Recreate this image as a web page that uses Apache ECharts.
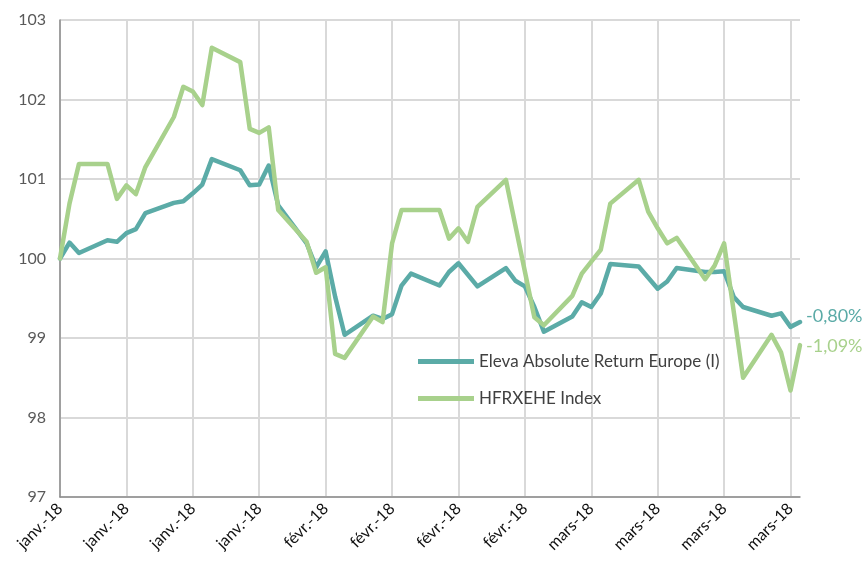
<!DOCTYPE html>
<html><head><meta charset="utf-8">
<script src="https://cdn.jsdelivr.net/npm/echarts@6/dist/echarts.min.js"></script>
<style>html,body{margin:0;padding:0;background:#fff}#c{width:868px;height:565px}</style>
</head><body><div id="c"></div>
<script>
// Business-day offsets from the first observation
const days = [0,1,2,5,6,7,8,9,12,13,14,15,16,19,20,21,22,23,26,27,28,29,30,33,34,35,36,37,40,41,42,43,44,47,48,49,50,51,54,55,56,57,58,61,62,63,64,65,68,69,70,71,72,75,76,77,78];
const eleva = [100.00,100.20,100.07,100.23,100.21,100.32,100.37,100.57,100.70,100.72,100.82,100.93,101.25,101.11,100.92,100.93,101.17,100.67,100.19,99.89,100.09,99.52,99.04,99.28,99.24,99.30,99.66,99.81,99.66,99.83,99.94,null,99.65,99.88,99.72,99.65,99.39,99.08,99.27,99.45,99.39,99.56,99.93,99.90,null,99.62,99.71,99.88,99.83,99.83,99.84,99.52,99.39,99.28,99.31,99.14,99.20];
const hfrx = [100.00,100.69,101.19,101.19,100.75,100.92,100.81,101.15,101.78,102.16,102.10,101.93,102.65,102.47,101.63,101.58,101.65,100.61,100.21,99.82,99.89,98.80,98.75,99.27,99.20,100.19,100.61,100.61,100.61,100.25,100.38,100.21,100.65,100.99,null,null,99.26,99.16,99.53,99.81,99.96,100.11,100.69,100.99,100.59,100.38,100.19,100.26,99.74,99.91,100.19,null,98.50,99.04,98.82,98.34,98.91];
const seriesNames = ['Eleva Absolute Return Europe (I)', 'HFRXEHE Index'];
const endLabels = ['-0,80%', '-1,09%'];
const tickDays = [0,7,14,21,28,35,42,49,56,63,70,77];
const tickLabels = ['janv.-18','janv.-18','janv.-18','janv.-18','févr.-18','févr.-18','févr.-18','févr.-18','mars-18','mars-18','mars-18','mars-18'];
const colors = ['#5BABA7', '#A8D18C'];

const toPairs = vals => days.map((d, i) => [d, vals[i]]).filter(p => p[1] !== null);
const font = 'Lato, "Open Sans", sans-serif';

const chart = echarts.init(document.getElementById('c'));
chart.setOption({
  animation: false,
  grid: {left: 60, right: 68, top: 20, bottom: 68, containLabel: false},
  legend: {
    orient: 'vertical', left: 413, top: 348, itemGap: 20,
    itemWidth: 56, itemHeight: 5, icon: 'rect', itemStyle: {borderWidth: 0},
    textStyle: {fontFamily: font, fontSize: 17, color: '#404040', padding: [0,0,0,0]},
    data: seriesNames
  },
  xAxis: {
    type: 'value', min: 0, max: 78, interval: 7,
    axisLine: {show: true, lineStyle: {color: '#8C8C8C', width: 1.5}},
    axisTick: {show: false, customValues: tickDays},
    axisLabel: {
      customValues: tickDays, rotate: 45, margin: 9,
      fontFamily: font, fontSize: 16, color: '#111111',
      formatter: v => tickLabels[tickDays.indexOf(v)] || ''
    },
    splitLine: {show: true, lineStyle: {color: '#D9D9D9', width: 2}}
  },
  yAxis: {
    type: 'value', min: 97, max: 103, interval: 1,
    axisLine: {show: true, lineStyle: {color: '#8C8C8C', width: 1.5}},
    axisTick: {show: false},
    axisLabel: {fontFamily: font, fontSize: 16, color: '#595959', margin: 14},
    splitLine: {show: true, lineStyle: {color: '#D9D9D9', width: 2}}
  },
  series: [eleva, hfrx].map((vals, k) => ({
    name: seriesNames[k], type: 'line', data: toPairs(vals),
    showSymbol: false, symbol: 'none', connectNulls: true,
    color: colors[k],
    lineStyle: {width: 4.5, color: colors[k], cap: 'round', join: 'round'},
    endLabel: {show: true, formatter: endLabels[k], color: colors[k],
      fontFamily: font, fontSize: 18, distance: 6, offset: [0, k === 0 ? -6 : 1]}
  }))
});
</script></body></html>
